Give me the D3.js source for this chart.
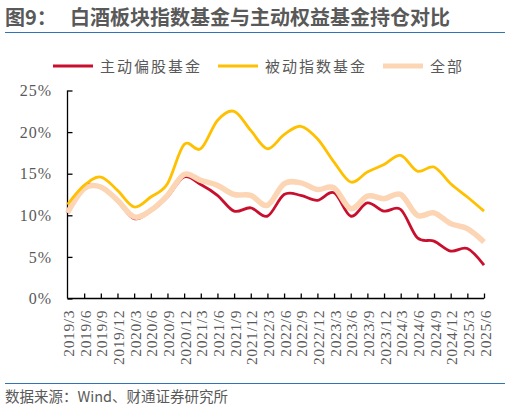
<!DOCTYPE html>
<html>
<head>
<meta charset="utf-8">
<script src="https://cdn.jsdelivr.net/npm/d3@7"></script>
<style>
  body { margin: 0; background: #fff; }
  svg { display: block; }
</style>
</head>
<body>
<svg width="510" height="414"></svg>
<script>
const svg = d3.select('svg');

// quarters on the x axis
const dates = ['2019/3', '2019/6', '2019/9', '2019/12', '2020/3', '2020/6', '2020/9', '2020/12',
  '2021/3', '2021/6', '2021/9', '2021/12', '2022/3', '2022/6', '2022/9', '2022/12',
  '2023/3', '2023/6', '2023/9', '2023/12', '2024/3', '2024/6', '2024/9', '2024/12',
  '2025/3', '2025/6'];

// holdings share, %
const activeFund = [10.3, 13.5, 13.3, 11.7, 9.6, 10.5, 12.2, 14.6, 13.7, 12.4, 10.5, 10.9, 9.9,
  12.5, 12.4, 11.8, 12.7, 9.9, 11.5, 10.5, 10.7, 7.3, 6.9, 5.7, 6.0, 4.0];
const indexFund = [11.3, 13.6, 14.6, 13.0, 11.0, 12.2, 13.8, 18.5, 18.0, 21.4, 22.5, 20.2, 18.0,
  19.7, 20.7, 19.2, 16.4, 14.0, 15.2, 16.1, 17.2, 15.3, 15.8, 13.8, 12.2, 10.5];
const allFund = [10.3, 13.2, 13.4, 11.8, 9.8, 10.6, 12.4, 14.9, 14.2, 13.6, 12.5, 12.4, 11.2,
  13.8, 13.9, 13.1, 13.3, 10.8, 12.3, 12.0, 12.5, 10.0, 10.3, 9.0, 8.4, 6.8];

const yTicks = [0, 5, 10, 15, 20, 25];
const seriesNames = ['主动偏股基金', '被动指数基金', '全部'];

const grey = '#595959';
const blue = '#2e75b6';

// header + footer
svg.append('text')
  .attr('x', 5).attr('y', 25)
  .attr('font-family', '"Noto Sans CJK SC", "Noto Sans", sans-serif')
  .attr('font-weight', 'bold')
  .attr('font-size', 20)
  .attr('fill', grey)
  .text('图9：');
svg.append('text')
  .attr('x', 70).attr('y', 25)
  .attr('font-family', '"Noto Sans CJK SC", sans-serif')
  .attr('font-weight', 'bold')
  .attr('font-size', 20)
  .attr('fill', grey)
  .text('白酒板块指数基金与主动权益基金持仓对比');
svg.append('line')
  .attr('x1', 5).attr('x2', 505).attr('y1', 32.5).attr('y2', 32.5)
  .attr('stroke', blue).attr('stroke-width', 1.2);
svg.append('line')
  .attr('x1', 5).attr('x2', 505).attr('y1', 383.5).attr('y2', 383.5)
  .attr('stroke', blue).attr('stroke-width', 1.2);
svg.append('text')
  .attr('x', 5).attr('y', 402)
  .attr('font-family', '"Noto Sans CJK SC", sans-serif')
  .attr('font-size', 14.5)
  .attr('fill', grey)
  .text('数据来源：Wind、财通证券研究所');

// scales
const x = d3.scalePoint().domain(dates).range([67.5, 484]);
const y = d3.scaleLinear().domain([0, 25]).range([298.5, 90.5]);

// axes (ticks point inward, labels drawn separately)
const yAxis = svg.append('g')
  .attr('transform', 'translate(67.5,0)')
  .call(d3.axisRight(y).tickValues(yTicks).tickSize(5).tickFormat(d => d + '%'));
yAxis.selectAll('text').remove();
yAxis.select('.domain').attr('d', `M0,${y(25)}V${y(0)}`);

svg.append('g').selectAll('text')
  .data(yTicks)
  .join('text')
  .attr('x', 52)
  .attr('y', d => y(d))
  .attr('dy', '0.35em')
  .attr('text-anchor', 'end')
  .attr('font-family', '"Liberation Serif", "Times New Roman", serif')
  .attr('font-size', 16)
  .attr('letter-spacing', 1)
  .attr('fill', grey)
  .text(d => d + '%');

const xAxis = svg.append('g')
  .attr('transform', 'translate(0,298.5)')
  .call(d3.axisTop(x).tickSize(5).tickFormat(''));
xAxis.select('.domain').attr('d', 'M67.5,0H484');
xAxis.selectAll('.tick').filter((d, i) => i === 0).remove();

svg.append('g').selectAll('text')
  .data(dates)
  .join('text')
  .attr('transform', d => `translate(${x(d)},310) rotate(-90)`)
  .attr('dy', '0.42em')
  .attr('text-anchor', 'end')
  .attr('font-family', '"Liberation Serif", "Times New Roman", serif')
  .attr('font-size', 15.5)
  .attr('letter-spacing', 0.6)
  .attr('fill', grey)
  .text(d => d);

svg.selectAll('.domain, .tick line')
  .attr('stroke', '#000')
  .attr('stroke-width', 1.3);

// lines
const line = d3.line()
  .x((d, i) => x(dates[i]))
  .y(d => y(d))
  .curve(d3.curveCatmullRom.alpha(0));

const series = [
  { values: activeFund, color: '#c8102e', width: 2.8 },
  { values: allFund, color: '#fcd5b4', width: 5.5 },
  { values: indexFund, color: '#ffc000', width: 2.8 }
];

svg.append('g').selectAll('path')
  .data(series)
  .join('path')
  .attr('d', d => line(d.values))
  .attr('fill', 'none')
  .attr('stroke', d => d.color)
  .attr('stroke-width', d => d.width)
  .attr('stroke-linejoin', 'round');

// legend
const legendItems = [
  { name: seriesNames[0], color: '#c8102e', width: 3, x: 53 },
  { name: seriesNames[1], color: '#ffc000', width: 3, x: 218 },
  { name: seriesNames[2], color: '#fcd5b4', width: 5, x: 383 }
];
const legend = svg.append('g').selectAll('g')
  .data(legendItems)
  .join('g')
  .attr('transform', d => `translate(${d.x},66)`);
legend.append('line')
  .attr('x1', 0).attr('x2', 40)
  .attr('stroke', d => d.color)
  .attr('stroke-width', d => d.width);
legend.append('text')
  .attr('x', 47)
  .attr('y', 5.5)
  .attr('font-family', '"Noto Sans CJK SC", sans-serif')
  .attr('font-size', 15)
  .attr('letter-spacing', 2)
  .attr('fill', grey)
  .text(d => d.name);
</script>
</body>
</html>
